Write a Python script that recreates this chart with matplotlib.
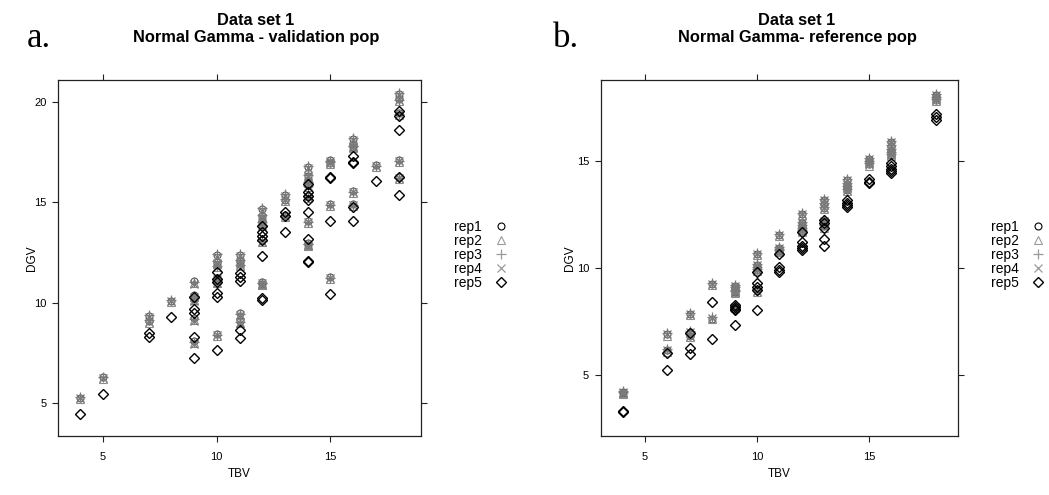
import matplotlib
matplotlib.use("Agg")
import matplotlib.pyplot as plt
from matplotlib.lines import Line2D

# ---------------- data: panel a (validation pop) ----------------
tbv_a = [4, 5, 7, 7, 8, 9, 9, 9, 9, 9, 10, 10, 10, 10, 10, 10, 11, 11, 11, 11, 11,
         12, 12, 12, 12, 12, 12, 12, 13, 13, 13, 14, 14, 14, 14, 14, 14, 14, 14,
         15, 15, 15, 15, 16, 16, 16, 16, 16, 17, 18, 18, 18, 18, 18]
rep1_a = [5.25, 6.27, 9.35, 9.1, 10.1, 11.1, 10.4, 10.2, 9.25, 8.1,
          12.35, 12.05, 11.9, 11.25, 11.1, 8.45, 12.35, 12.1, 11.95, 9.5, 9.1,
          14.65, 14.3, 14.05, 13.9, 13.1, 11.05, 10.95, 15.35, 15.1, 14.35,
          16.75, 16.3, 16.05, 15.85, 15.3, 14.05, 12.95, 12.85,
          17.1, 16.95, 14.9, 11.3, 18.15, 17.85, 17.75, 15.55, 14.9, 16.85,
          20.4, 20.15, 19.45, 17.1, 16.25]
rep2_a = [5.2, 6.2, 9.25, 9.0, 10.05, 11.0, 10.3, 10.15, 9.15, 8.0,
          12.2, 11.95, 11.8, 11.15, 11.0, 8.35, 12.25, 12.0, 11.85, 9.4, 9.0,
          14.5, 14.25, 13.95, 13.8, 13.0, 10.95, 10.9, 15.25, 15.05, 14.25,
          16.6, 16.25, 15.95, 15.75, 15.2, 13.95, 12.85, 12.8,
          17.0, 16.9, 14.8, 11.2, 18.05, 17.75, 17.7, 15.45, 14.8, 16.75,
          20.3, 20.05, 19.35, 17.0, 16.15]
rep3_a = [5.3, 6.3, 9.4, 9.15, 10.15, 11.05, 10.35, 10.25, 9.2, 8.05,
          12.4, 12.1, 11.85, 11.2, 11.05, 8.4, 12.4, 12.15, 11.9, 9.45, 9.05,
          14.7, 14.35, 14.0, 13.85, 13.05, 11.0, 11.0, 15.4, 15.15, 14.3,
          16.8, 16.35, 16.0, 15.8, 15.25, 14.0, 12.9, 12.9,
          17.05, 17.0, 14.85, 11.25, 18.2, 17.8, 17.8, 15.5, 14.85, 16.8,
          20.45, 20.1, 19.4, 17.05, 16.2]
rep4_a = [5.25, 6.25, 9.3, 9.05, 10.1, 10.95, 10.3, 10.1, 9.1, 7.95,
          12.25, 12.0, 11.95, 11.2, 11.0, 8.4, 12.3, 12.05, 11.9, 9.4, 9.0,
          14.55, 14.2, 14.0, 13.8, 13.0, 11.0, 10.9, 15.3, 15.1, 14.3,
          16.7, 16.3, 16.0, 15.8, 15.25, 14.0, 12.9, 12.8,
          17.05, 16.95, 14.85, 11.25, 18.1, 17.8, 17.75, 15.5, 14.85, 16.8,
          20.35, 20.1, 19.4, 17.05, 16.2]
rep5_a = [4.45, 5.45, 8.5, 8.3, 9.3, 10.3, 9.7, 9.5, 8.3, 7.25,
          11.55, 11.2, 11.05, 10.5, 10.3, 7.65, 11.5, 11.3, 11.1, 8.65, 8.25,
          13.8, 13.5, 13.3, 13.1, 12.3, 10.25, 10.15, 14.5, 14.3, 13.5,
          15.9, 15.5, 15.3, 15.1, 14.5, 13.15, 12.1, 12.05,
          16.25, 16.2, 14.05, 10.45, 17.3, 17.0, 16.95, 14.75, 14.05, 16.05,
          19.55, 19.3, 18.6, 16.25, 15.35]

# ---------------- data: panel b (reference pop) ----------------
tbv_b = [4, 4, 6, 6, 7, 7, 7, 8, 8, 9, 9, 9, 9, 9, 10, 10, 10, 10, 10,
         11, 11, 11, 11, 12, 12, 12, 12, 12, 13, 13, 13, 13, 13,
         14, 14, 14, 14, 15, 15, 15, 16, 16, 16, 16, 16, 18, 18, 18]
rep1_b = [4.2, 4.15, 6.9, 6.17, 7.87, 7.0, 6.85, 9.26, 7.64, 9.15, 9.05, 8.95, 8.9, 8.2,
          10.65, 10.15, 10.0, 9.9, 8.95, 11.55, 10.95, 10.85, 10.8,
          12.55, 12.1, 11.95, 11.85, 11.75, 13.2, 13.0, 12.8, 12.2, 11.95,
          14.1, 13.95, 13.8, 13.65, 15.1, 14.95, 14.85,
          15.9, 15.7, 15.5, 15.4, 15.3, 18.1, 17.95, 17.85]
rep2_b = [4.15, 4.1, 6.85, 6.1, 7.8, 6.95, 6.8, 9.2, 7.6, 9.1, 9.0, 8.9, 8.85, 8.15,
          10.6, 10.1, 9.95, 9.85, 8.9, 11.5, 10.9, 10.8, 10.75,
          12.5, 12.05, 11.9, 11.8, 11.7, 13.15, 12.95, 12.75, 12.15, 11.9,
          14.05, 13.9, 13.75, 13.6, 15.05, 14.9, 14.8,
          15.85, 15.65, 15.45, 15.35, 15.25, 18.05, 17.9, 17.8]
rep3_b = [4.25, 4.2, 6.95, 6.2, 7.9, 7.05, 6.9, 9.3, 7.7, 9.2, 9.1, 9.0, 8.95, 8.25,
          10.7, 10.2, 10.05, 9.95, 9.0, 11.6, 11.0, 10.9, 10.85,
          12.6, 12.15, 12.0, 11.9, 11.8, 13.25, 13.05, 12.85, 12.25, 12.0,
          14.15, 14.0, 13.85, 13.7, 15.15, 15.0, 14.9,
          15.95, 15.75, 15.55, 15.45, 15.35, 18.15, 18.0, 17.9]
rep4_b = [4.2, 4.15, 6.9, 6.15, 7.85, 7.0, 6.85, 9.25, 7.65, 9.15, 9.05, 8.95, 8.9, 8.2,
          10.65, 10.15, 10.0, 9.9, 8.95, 11.55, 10.95, 10.85, 10.8,
          12.55, 12.1, 11.95, 11.85, 11.75, 13.2, 13.0, 12.8, 12.2, 11.95,
          14.1, 13.95, 13.8, 13.65, 15.1, 14.95, 14.85,
          15.9, 15.7, 15.5, 15.4, 15.3, 18.1, 17.95, 17.85]
rep5_b = [3.32, 3.28, 6.02, 5.25, 6.95, 6.25, 6.0, 8.41, 6.71, 8.3, 8.2, 8.1, 8.05, 7.33,
          9.8, 9.3, 9.1, 9.0, 8.05, 10.65, 10.05, 9.9, 9.8,
          11.7, 11.2, 11.05, 10.95, 10.85, 12.25, 12.1, 11.9, 11.35, 11.05,
          13.2, 13.05, 12.95, 12.85, 14.15, 14.05, 14.0,
          14.9, 14.8, 14.65, 14.55, 14.45, 17.2, 17.05, 16.95]

rep_labels = ["rep1", "rep2", "rep3", "rep4", "rep5"]
x_ticks = [5, 10, 15]
y_ticks_a = [5, 10, 15, 20]
y_ticks_b = [5, 10, 15]

# ---------------- styles ----------------
styles = [
    dict(marker="o", mfc="none", mec="#555555", ms=5.0, mew=0.8),
    dict(marker="^", mfc="none", mec="#8c8c8c", ms=5.5, mew=0.8),
    dict(marker="+", mfc="none", mec="#7a7a7a", ms=7.0, mew=0.9),
    dict(marker="x", mfc="none", mec="#7a7a7a", ms=5.5, mew=0.9),
    dict(marker="D", mfc="none", mec="black", ms=5.2, mew=1.0),
]
legend_styles = [
    dict(marker="o", mfc="none", mec="black", ms=5.0, mew=0.8),
    dict(marker="^", mfc="none", mec="#9a9a9a", ms=5.5, mew=0.8),
    dict(marker="+", mfc="none", mec="#9a9a9a", ms=7.0, mew=0.9),
    dict(marker="x", mfc="none", mec="#9a9a9a", ms=5.5, mew=0.9),
    dict(marker="D", mfc="none", mec="black", ms=5.2, mew=1.0),
]

plt.rcParams["font.family"] = ["Liberation Sans", "DejaVu Sans"]

W, H = 1049, 495
fig = plt.figure(figsize=(W / 100, H / 100), dpi=100)

def fx(px):
    return px / W

def fy(py):
    return 1 - py / H

panels = [
    dict(left=58, right=421, tbv=tbv_a, reps=[rep1_a, rep2_a, rep3_a, rep4_a, rep5_a],
         ylim=(3.35, 21.1), yticks=y_ticks_a, title_x=256, ylab_off=20,
         title="Data set 1\nNormal Gamma - validation pop", letter="a.", letter_x=27,
         leg_x=454),
    dict(left=600.7, right=958, tbv=tbv_b, reps=[rep1_b, rep2_b, rep3_b, rep4_b, rep5_b],
         ylim=(2.15, 18.8), yticks=y_ticks_b, title_x=797, ylab_off=25,
         title="Data set 1\nNormal Gamma- reference pop", letter="b.", letter_x=553,
         leg_x=991),
]

top, bottom = 80, 436
for p in panels:
    width_px = p["right"] - p["left"]
    ax = fig.add_axes([fx(p["left"]), fy(bottom), fx(width_px),
                       (bottom - top) / H])
    for vals, st in zip(p["reps"], styles):
        ax.plot(p["tbv"], vals, linestyle="none", **st)
    ax.set_xlim(3.02, 18.98)
    ax.set_ylim(*p["ylim"])
    ax.set_xticks(x_ticks)
    ax.set_yticks(p["yticks"])
    ax.tick_params(direction="out", length=4.3, width=0.8, color="#222222",
                   labelsize=8, top=True, right=True)
    ax.tick_params(axis="x", pad=7)
    ax.tick_params(axis="y", pad=4)
    for s in ax.spines.values():
        s.set_linewidth(0.9)
        s.set_color("#222222")
    ax.set_xlabel("TBV", fontsize=8.5)
    ax.set_ylabel("DGV", fontsize=8.5)
    ax.xaxis.set_label_coords(0.5, -(468 - bottom) / (bottom - top))
    ax.yaxis.set_label_coords(-p["ylab_off"] / width_px, 0.5)

    fig.text(fx(p["title_x"]), fy(29), p["title"], ha="center", va="center",
             fontsize=11.8, fontweight="bold", linespacing=1.2)
    fig.text(fx(p["letter_x"]), fy(47), p["letter"], ha="left", va="baseline",
             fontsize=25, family=["Liberation Serif", "DejaVu Serif"])

    handles = [Line2D([], [], linestyle="none", **st) for st in legend_styles]
    fig.legend(handles, rep_labels, loc="upper left",
               bbox_to_anchor=(fx(p["leg_x"]), fy(220)), frameon=False,
               markerfirst=False, fontsize=10, handlelength=1.0, handletextpad=0.85,
               labelspacing=0.0, borderpad=0, borderaxespad=0)

fig.savefig("out.png", dpi=100)
